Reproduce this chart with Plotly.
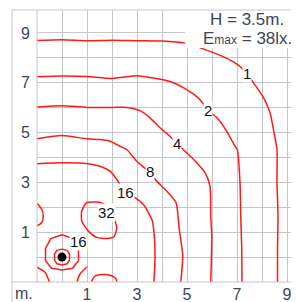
import plotly.graph_objects as go

# ---- data (metres, lux) ----
c1_x = [-1, 0, 1, 2, 3, 4.0, 4.92, 5.64, 6.44, 7.04, 7.4, 7.6, 8.04, 8.32, 8.48, 8.6, 8.6, 8.64, 8.62, 8.62]
c1_y = [8.7, 8.73, 8.69, 8.71, 8.69, 8.68, 8.59, 8.36, 8.05, 7.72, 7.36, 7.08, 6.44, 5.8, 5.0, 4.32, 3.0, 1.64, 0.32, -1]
c1b_x = [9.36, 9.48]
c1b_y = [8.48, 8.24]
c2_x = [-1, 0, 1, 2, 3, 3.52, 4.32, 4.99, 5.52, 5.84, 6.19, 6.59, 6.92, 7.01, 7.12, 7.15, 7.19, 7.2]
c2_y = [7.24, 7.27, 7.25, 7.17, 7.28, 7.21, 7.05, 6.72, 6.32, 5.88, 5.6, 5.05, 4.45, 4.32, 3.0, 1.64, 0.32, -1]
c4_x = [-1, 0, 1, 2, 2.59, 3.12, 3.52, 3.92, 4.32, 4.59, 4.85, 5.39, 5.72, 5.92, 5.95, 5.99, 5.95]
c4_y = [6.03, 6.08, 6.01, 6.01, 6.01, 5.88, 5.59, 5.19, 4.85, 4.56, 4.32, 3.79, 3.39, 2.85, 1.65, 0.85, -1]
c8_x = [-1, 0, 0.99, 1.52, 1.92, 2.32, 2.59, 2.99, 3.45, 3.79, 4.19, 4.56, 4.69, 4.83, 4.75]
c8_y = [4.75, 4.88, 4.75, 4.72, 4.65, 4.45, 4.32, 3.85, 3.45, 3.05, 2.65, 2.19, 1.12, 0.05, -1]
c16_x = [-1, 0, 0.99, 1.52, 1.92, 2.19, 2.52, 2.92, 3.25, 3.45, 3.6, 3.68, 3.72, 3.68]
c16_y = [3.75, 3.79, 3.76, 3.65, 3.45, 3.12, 2.61, 2.39, 2.12, 1.8, 1.5, 0.99, 0.05, -1]
c16l_x = [-1, -0.81, -0.75, -0.81, -1]
c16l_y = [2.16, 1.92, 1.65, 1.39, 1.25]
c32_x = [1.25, 0.99, 0.79, 0.79, 1.05, 1.39, 1.79, 2.09, 2.19, 2.12, 2.0, 1.79, 1.5, 1.25]
c32_y = [2.21, 2.19, 1.85, 1.45, 1.05, 0.79, 0.75, 0.83, 1.19, 1.45, 1.75, 2.05, 2.2, 2.21]
c16b_x = [1.17, 1.3, 1.6, 1.95, 2.15, 2.2]
c16b_y = [-1, -0.78, -0.7, -0.74, -0.86, -1]
c16bl_x = [-1, -0.68, -0.5]
c16bl_y = [-0.4, -0.61, -1]
c16br_x = [1.0, 0.72, 0.6]
c16br_y = [-0.4, -0.68, -1]
c16o_x = [0, 0.45, 0.66, 0.66, 0.42, 0, -0.42, -0.66, -0.66, -0.45, 0]
c16o_y = [0.9, 0.74, 0.35, -0.15, -0.45, -0.52, -0.45, -0.15, 0.35, 0.74, 0.9]
c16i_x = [0, 0.2, 0.3, 0.3, 0.2, 0, -0.2, -0.3, -0.3, -0.2, 0]
c16i_y = [0.32, 0.27, 0.12, -0.12, -0.27, -0.32, -0.27, -0.12, 0.12, 0.27, 0.32]
lamp_x = [0]
lamp_y = [0]

label_text = ["1", "2", "4", "8", "16", "32", "16"]
label_x = [7.4, 5.84, 4.59, 3.5, 2.52, 1.79, 0.65]
label_y = [7.36, 5.88, 4.56, 3.45, 2.61, 1.81, 0.61]

tick_vals = list(range(-1, 10))
tick_text = ["" if v % 2 == 0 or v < 0 else str(v) for v in tick_vals]

FONT = "Arial, Liberation Sans, sans-serif"
RED = "#ff1a1a"
fig = go.Figure()
series = [(c1_x, c1_y, True), (c1b_x, c1b_y, False), (c2_x, c2_y, True), (c4_x, c4_y, True),
          (c8_x, c8_y, True), (c16_x, c16_y, True), (c16l_x, c16l_y, True), (c32_x, c32_y, True),
          (c16b_x, c16b_y, True), (c16bl_x, c16bl_y, True), (c16br_x, c16br_y, True),
          (c16o_x, c16o_y, False), (c16i_x, c16i_y, False)]
for xs, ys, smooth in series:
    fig.add_trace(go.Scatter(x=xs, y=ys, mode="lines",
                             line=dict(color=RED, width=1.5,
                                       shape="spline" if smooth else "linear", smoothing=0.6),
                             hoverinfo="skip", showlegend=False))
fig.add_trace(go.Scatter(x=lamp_x, y=lamp_y, mode="markers",
                         marker=dict(color="black", size=9), showlegend=False))

for t, x, y in zip(label_text, label_x, label_y):
    fig.add_annotation(x=x, y=y, xref="x", yref="y", text=t, showarrow=False,
                       xanchor="center", yanchor="middle",
                       font=dict(family=FONT, size=15, color="#111"),
                       bgcolor="white", borderpad=0)

GRID = "#c6c6c6"
axis_common = dict(tickmode="array", tickvals=tick_vals, ticktext=tick_text, showgrid=True,
                   gridcolor=GRID, gridwidth=1, zeroline=False, showline=False, ticks="",
                   tickfont=dict(family=FONT, size=16, color="#3d4654"),
                   fixedrange=True, automargin=False)
# page body has an 8px margin, so the figure is 8px smaller than the window
fig.update_layout(
    width=291, height=294, margin=dict(l=29, r=0, t=2, b=20, autoexpand=False),
    paper_bgcolor="white", plot_bgcolor="white", showlegend=False,
    xaxis=dict(range=[-1, 9.48], ticklabelstandoff=1, **axis_common),
    yaxis=dict(range=[-1, 9.92], ticklabelstandoff=6, **axis_common),
)

# pixel (reference picture) -> paper coordinates
px = lambda p: (p - 37) / 262
py = lambda p: (282 - p) / 272

# info box
fig.add_shape(type="rect", xref="paper", yref="paper", x0=px(185), x1=1.05, y0=py(48), y1=1,
              fillcolor="white", line=dict(width=0), layer="above")
# frame
for x0, y0, x1, y1 in [(12, 10, 299, 10), (12, 10, 12, 302), (12, 282, 299, 282), (37, 10, 37, 282)]:
    fig.add_shape(type="line", xref="paper", yref="paper", x0=px(x0), y0=py(y0), x1=px(x1), y1=py(y1),
                  line=dict(color=GRID, width=1), layer="above")

fig.add_annotation(xref="paper", yref="paper", x=px(247), y=py(20), text="H = 3.5m.", showarrow=False,
                   xanchor="center", yanchor="middle",
                   font=dict(family=FONT, size=17, color="#3d4654"))
fig.add_annotation(xref="paper", yref="paper", x=px(247), y=py(39),
                   text="E<span style='font-size:12px'>max</span> = 38lx.", showarrow=False,
                   xanchor="center", yanchor="middle",
                   font=dict(family=FONT, size=17, color="#3d4654"))
fig.add_annotation(xref="paper", yref="paper", x=px(24), y=py(293), text="m.", showarrow=False,
                   xanchor="center", yanchor="middle",
                   font=dict(family=FONT, size=16, color="#3d4654"))

fig.write_html("out.html")
